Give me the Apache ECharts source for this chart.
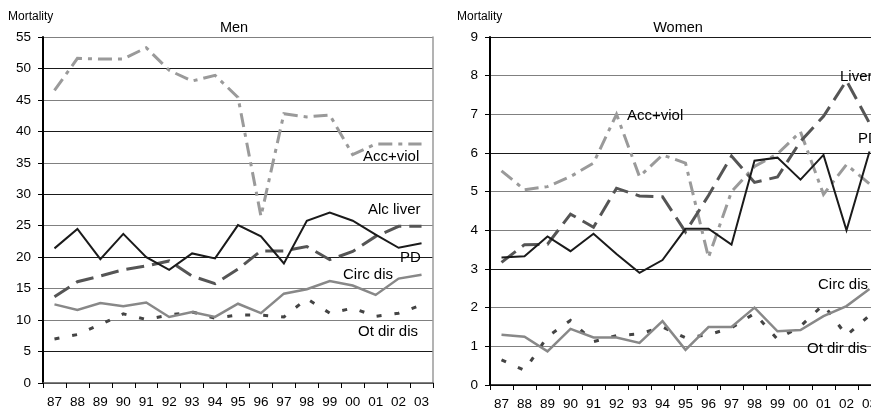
<!DOCTYPE html>
<html>
<head>
<meta charset="utf-8">
<script src="https://cdn.jsdelivr.net/npm/echarts@6/dist/echarts.min.js"></script>
<style>
html,body{margin:0;padding:0;background:#fff;}
#chart{width:871px;height:413px;}
</style>
</head>
<body>
<div id="chart"></div>
<script>
// ---- data ----
const years = ['87','88','89','90','91','92','93','94','95','96','97','98','99','00','01','02','03'];

const menTicksMax = 55;
const womenTicksMax = 9;

const menAccViol = [46.5, 51.6, 51.5, 51.5, 53.3, 49.7, 48.0, 48.9, 45.4, 26.5, 42.8, 42.3, 42.6, 36.3, 38.0, 38.0, 38.0];
const menAlcLiver = [21.4, 24.5, 19.7, 23.7, 20.0, 18.0, 20.6, 19.8, 25.1, 23.3, 19.0, 25.8, 27.1, 25.8, 23.6, 21.5, 22.2];
const menPD = [13.7, 16.1, 17.0, 18.0, 18.6, 19.4, 17.0, 15.8, 18.1, 21.0, 21.0, 21.7, 19.6, 20.9, 23.3, 24.9, 24.9];
const menCircDis = [12.5, 11.6, 12.7, 12.2, 12.8, 10.5, 11.3, 10.5, 12.6, 11.1, 14.2, 14.9, 16.2, 15.5, 14.0, 16.6, 17.2];
const menOtDirDis = [7.0, 7.7, 9.3, 11.0, 10.1, 10.8, 11.3, 10.3, 10.8, 10.8, 10.5, 13.4, 11.1, 11.9, 10.6, 11.1, 12.4];

const womenAccViol = [5.54, 5.05, 5.13, 5.39, 5.74, 7.0, 5.39, 5.95, 5.74, 3.3, 5.0, 5.65, 5.98, 6.55, 4.93, 5.7, 5.2];
const womenLiver = [3.17, 3.63, 3.64, 4.42, 4.08, 5.09, 4.89, 4.87, 3.96, 4.9, 5.92, 5.24, 5.38, 6.3, 6.95, 7.87, 6.77];
const womenPD = [3.3, 3.33, 3.84, 3.46, 3.91, 3.39, 2.9, 3.23, 4.04, 4.04, 3.63, 5.8, 5.88, 5.31, 5.95, 4.0, 6.04];
const womenCircDis = [1.30, 1.25, 0.87, 1.45, 1.23, 1.23, 1.09, 1.65, 0.91, 1.50, 1.50, 2.0, 1.39, 1.42, 1.78, 2.04, 2.48];
const womenOtDirDis = [0.65, 0.38, 1.25, 1.67, 1.12, 1.28, 1.32, 1.5, 1.22, 1.30, 1.48, 1.85, 1.18, 1.52, 2.08, 1.28, 1.8];

// ---- chart ----
const FONT = '"Liberation Sans", Arial, sans-serif';
const chart = echarts.init(document.getElementById('chart'), null, {renderer: 'canvas'});

function xAxis(gi, lineColor) {
  return {
    gridIndex: gi, type: 'category', data: years, boundaryGap: true,
    axisLine: {show: true, lineStyle: {color: lineColor, width: 1.5}},
    axisTick: {show: true, length: 5, interval: 0, lineStyle: {color: '#000', width: 1}},
    axisLabel: {color: '#000', fontSize: 13.5, fontFamily: FONT, margin: 12, interval: 0, hideOverlap: false},
    splitLine: {show: false}
  };
}
function yAxis(gi, max, interval, colors) {
  return {
    gridIndex: gi, type: 'value', min: 0, max: max, interval: interval,
    axisLine: {show: true, lineStyle: {color: '#000', width: 2}},
    axisTick: {show: true, length: 5, lineStyle: {color: '#000', width: 1}},
    axisLabel: {color: '#000', fontSize: 13.5, fontFamily: FONT, margin: 12},
    splitLine: {show: true, lineStyle: {color: colors, width: 1}}
  };
}
const G = '#808080', K = '#1a1a1a';

function line(name, data, gi, yi, color, width, type, z) {
  return {
    name: name, type: 'line', xAxisIndex: gi, yAxisIndex: yi, data: data,
    symbol: 'none', smooth: false, z: z || 2,
    lineStyle: {color: color, width: width, type: type, cap: 'butt', join: 'miter'}
  };
}

function txt(text, x, y, size, align) {
  return {
    type: 'text', x: x, y: y, z: 100,
    style: {text: text, fill: '#000', font: size + 'px ' + FONT, align: align || 'left', verticalAlign: 'middle'}
  };
}

const option = {
  animation: false,
  backgroundColor: '#fff',
  grid: [
    {left: 43, top: 37, width: 390, height: 346, containLabel: false, outerBoundsMode: 'none'},
    {left: 490, top: 37, width: 391, height: 348, containLabel: false, outerBoundsMode: 'none'}
  ],
  xAxis: [xAxis(0, '#555'), xAxis(1, '#000')],
  yAxis: [
    yAxis(0, menTicksMax, 5, ['#555', K, G, G, K, G, K, G, K, G, K, G]),
    {gridIndex: 0, type: 'value', position: 'right', min: 0, max: menTicksMax, interval: 5,
     axisLine: {show: true, lineStyle: {color: '#9a9a9a', width: 1.5}},
     axisTick: {show: false}, axisLabel: {show: false}, splitLine: {show: false}},
    yAxis(1, womenTicksMax, 1, [K, G, G])
  ],
  series: [
    line('Ot dir dis', menOtDirDis, 0, 0, '#444', 3, [5, 13], 2),
    line('Circ dis', menCircDis, 0, 0, '#888', 2.5, 'solid', 3),
    line('PD', menPD, 0, 0, '#555', 3, [18, 8], 4),
    line('Acc+viol', menAccViol, 0, 0, '#9a9a9a', 3, [14, 6, 4, 6], 5),
    line('Alc liver', menAlcLiver, 0, 0, '#1a1a1a', 2, 'solid', 6),

    line('Ot dir dis', womenOtDirDis, 1, 2, '#444', 3, [5, 13], 2),
    line('Circ dis', womenCircDis, 1, 2, '#888', 2.5, 'solid', 3),
    line('Acc+viol', womenAccViol, 1, 2, '#9a9a9a', 3, [14, 6, 4, 6], 4),
    line('Liver', womenLiver, 1, 2, '#555', 3, [18, 8], 5),
    line('PD', womenPD, 1, 2, '#1a1a1a', 2, 'solid', 6)
  ],
  graphic: [
    txt('Mortality', 8, 17, 12),
    txt('Men', 234, 28, 14.5, 'center'),
    txt('Acc+viol', 363, 157, 15),
    txt('Alc liver', 368, 210, 15),
    txt('PD', 400, 258, 15),
    txt('Circ dis', 343, 275, 15),
    txt('Ot dir dis', 358, 332, 15),

    txt('Mortality', 457, 17, 12),
    txt('Women', 678, 28, 14.5, 'center'),
    txt('Acc+viol', 627, 116, 15),
    txt('Liver', 840, 77, 15),
    txt('PD', 858, 139, 15),
    txt('Circ dis', 818, 285, 15),
    txt('Ot dir dis', 807, 349, 15)
  ]
};
chart.setOption(option);
</script>
</body>
</html>
